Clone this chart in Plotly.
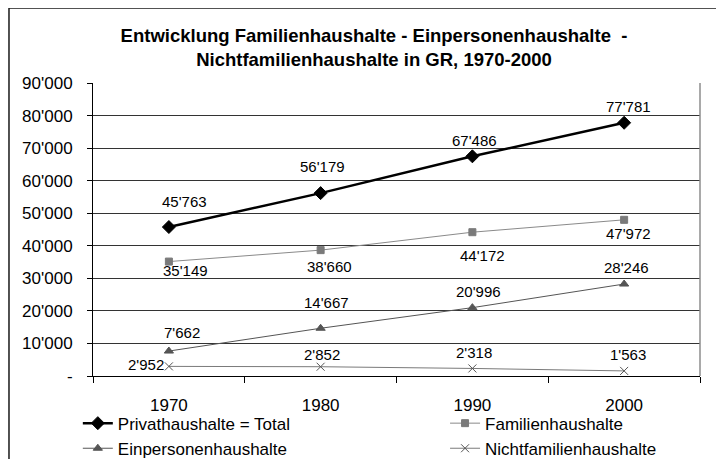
import plotly.graph_objects as go

# ---- data ----
years = ["1970", "1980", "1990", "2000"]
privathaushalte = [45763, 56179, 67486, 77781]
familienhaushalte = [35149, 38660, 44172, 47972]
einpersonenhaushalte = [7662, 14667, 20996, 28246]
nichtfamilienhaushalte = [2952, 2852, 2318, 1563]

y_tickvals = [0, 10000, 20000, 30000, 40000, 50000, 60000, 70000, 80000, 90000]
y_ticktext = ["-", "10'000", "20'000", "30'000", "40'000", "50'000",
              "60'000", "70'000", "80'000", "90'000"]

title_text = ("Entwicklung Familienhaushalte - Einpersonenhaushalte  -<br>"
              "Nichtfamilienhaushalte in GR, 1970-2000")

# ---- styles ----
FONT = "Liberation Sans, Arial, sans-serif"
W, H = 716, 451  # page adds an 8px body margin

series = [
    dict(name="Privathaushalte = Total", y=privathaushalte, color="#000000",
         mcolor="#000000", width=2.5, symbol="diamond", size=10, legend="legend",
         shifts=[(16, 26), (2, 27), (2, 16), (4, 16)]),
    dict(name="Familienhaushalte", y=familienhaushalte, color="#8a8a8a",
         mcolor="#7a7a7a", width=1, symbol="square", size=7, legend="legend2",
         shifts=[(17, -9), (9, -16), (10, -23), (4, -14)]),
    dict(name="Einpersonenhaushalte", y=einpersonenhaushalte, color="#555555",
         mcolor="#555555", width=1, symbol="triangle-up", size=8, legend="legend",
         shifts=[(13, 19), (6, 26), (6, 16), (2, 17)]),
    dict(name="Nichtfamilienhaushalte", y=nichtfamilienhaushalte, color="#7a7a7a",
         mcolor="#555555", width=1, symbol="x-thin", size=8, legend="legend2",
         shifts=[(-23, 2), (1, 12), (2, 16), (4, 16)]),
]


def fmt(v):
    return f"{v:,}".replace(",", "'")


fig = go.Figure()
annotations = []
for s in series:
    fig.add_trace(go.Scatter(
        x=years, y=s["y"], name=s["name"], mode="lines+markers",
        line=dict(color=s["color"], width=s["width"]),
        marker=dict(symbol=s["symbol"], size=s["size"], color=s["mcolor"],
                    line=dict(color=s["mcolor"], width=1)),
        legend=s["legend"],
    ))
    for i, (yv, (dx, dy)) in enumerate(zip(s["y"], s["shifts"])):
        annotations.append(dict(
            x=i, y=yv, xref="x", yref="y", text=fmt(yv), showarrow=False,
            xanchor="center", yanchor="middle", xshift=dx, yshift=dy,
            font=dict(family=FONT, size=15, color="#000000"),
        ))

shapes = [
    # outer chart border
    dict(type="rect", xref="paper", yref="paper", x0=-0.1384, x1=1.3,
         y0=-1.0, y1=1.256, line=dict(color="#1a1a1a", width=1.5),
         fillcolor="rgba(0,0,0,0)", layer="above"),
    # plot area right edge
    dict(type="line", xref="paper", yref="paper", x0=1, x1=1, y0=0, y1=1,
         line=dict(color="#8c8c8c", width=1.5)),
]

fig.update_layout(
    width=W, height=H,
    margin=dict(l=85, r=24, t=75, b=83, autoexpand=False),
    paper_bgcolor="white", plot_bgcolor="white",
    font=dict(family=FONT, color="#000000"),
    title=dict(text=title_text, x=366 / W, xref="container", xanchor="center",
               y=1 - 34 / H, yref="container", yanchor="middle",
               font=dict(family=FONT, size=18.5, color="#000000", weight="bold")),
    xaxis=dict(type="category", range=[-0.5, 3.5], showline=True,
               linecolor="#000000", linewidth=1, ticks="outside", ticklen=6,
               tickcolor="#000000", tickson="boundaries", showgrid=False,
               tickfont=dict(family=FONT, size=17), ticklabelstandoff=14),
    yaxis=dict(range=[0, 90000], tickvals=y_tickvals, ticktext=y_ticktext,
               showline=True, linecolor="#000000", linewidth=1,
               ticks="outside", ticklen=5, tickcolor="#000000",
               showgrid=True, gridcolor="#333333", gridwidth=1,
               zeroline=False, tickfont=dict(family=FONT, size=17),
               ticklabelstandoff=11),
    legend=dict(x=-0.025, xanchor="left", y=-0.101, yanchor="top",
                orientation="v", font=dict(family=FONT, size=17),
                bgcolor="rgba(0,0,0,0)", borderwidth=0, tracegroupgap=0),
    legend2=dict(x=0.58, xanchor="left", y=-0.101, yanchor="top",
                 orientation="v", font=dict(family=FONT, size=17),
                 bgcolor="rgba(0,0,0,0)", borderwidth=0, tracegroupgap=0),
    annotations=annotations,
    shapes=shapes,
    showlegend=True,
)

fig.write_html("out.html")
